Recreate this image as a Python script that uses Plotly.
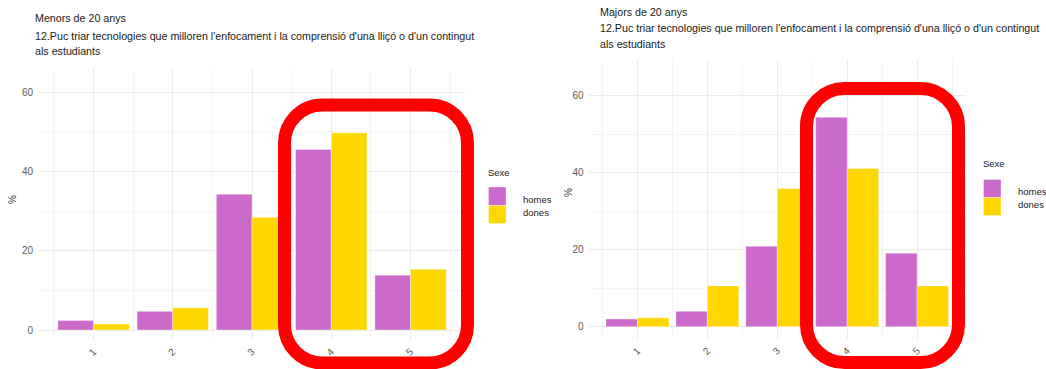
import plotly.graph_objects as go

W, H = 1046, 369

# Survey answers (1-5) and the share of each sex, in percent
categories = [1, 2, 3, 4, 5]
tick_labels = ["1", "2", "3", "4", "5"]
menors_homes = [2.4, 4.7, 34.2, 45.5, 13.8]
menors_dones = [1.5, 5.6, 28.4, 49.7, 15.3]
majors_homes = [2.0, 4.0, 20.9, 54.4, 19.1]
majors_dones = [2.3, 10.6, 35.9, 41.1, 10.6]

series_names = ["homes", "dones"]
colors = ["#CC6ACC", "#FFD700"]

question_lines = [
    "12.Puc triar tecnologies que milloren l'enfocament i la comprensió d'una lliçó o d'un contingut",
    "als estudiants",
]
title_lines = [
    ["Menors de 20 anys"] + question_lines,
    ["Majors de 20 anys"] + question_lines,
]

FONT = "Liberation Sans, Arial, sans-serif"
GRID = "#EBEBEB"
MINOR = "#F4F4F4"
TICK = "#5A5A5A"


def px(x):
    return x / W


def py(y):
    return 1 - y / H


def rounded_rect(x0, y0, x1, y1, r):
    """Rounded rectangle path given in pixels, returned in paper coordinates."""
    k = 0.5523 * r
    pts = [
        ("M", [(x0 + r, y0)]),
        ("L", [(x1 - r, y0)]),
        ("C", [(x1 - r + k, y0), (x1, y0 + r - k), (x1, y0 + r)]),
        ("L", [(x1, y1 - r)]),
        ("C", [(x1, y1 - r + k), (x1 - r + k, y1), (x1 - r, y1)]),
        ("L", [(x0 + r, y1)]),
        ("C", [(x0 + r - k, y1), (x0, y1 - r + k), (x0, y1 - r)]),
        ("L", [(x0, y0 + r)]),
        ("C", [(x0, y0 + r - k), (x0 + r - k, y0), (x0 + r, y0)]),
    ]
    parts = []
    for cmd, coords in pts:
        parts.append(cmd + " " + " ".join(f"{px(a):.5f},{py(b):.5f}" for a, b in coords))
    return " ".join(parts) + " Z"


# panel geometry (pixels): left, right, top, bottom, y range
panels = [
    dict(x0=38, x1=466, y0=68, y1=340, yr=[-2.52, 66.05]),
    dict(x0=588.5, x1=966, y0=60, y1=339, yr=[-3.2, 69.3]),
]
data_sets = [(menors_homes, menors_dones), (majors_homes, majors_dones)]

fig = go.Figure()

for i, (p, vals) in enumerate(zip(panels, data_sets)):
    ax = "" if i == 0 else str(i + 1)
    for name, v, c in zip(series_names, vals, colors):
        fig.add_trace(go.Bar(
            x=categories, y=v, name=name,
            marker=dict(color=c, line=dict(color="rgba(255,255,255,0.6)", width=0.6)),
            xaxis="x" + ax, yaxis="y" + ax, showlegend=False,
        ))
    xa = dict(
        domain=[px(p["x0"]), px(p["x1"])], range=[0.3, 5.7],
        tickvals=categories, ticktext=tick_labels, tickangle=-45,
        showgrid=True, gridcolor=GRID, gridwidth=1,
        minor=dict(tickvals=[0.5, 1.5, 2.5, 3.5, 4.5, 5.5], showgrid=True, gridcolor=MINOR),
        zeroline=False, showline=False, ticks="", ticklabelstandoff=3,
        tickfont=dict(family=FONT, size=10, color=TICK),
        anchor="y" + ax, automargin=False, fixedrange=True,
    )
    ya = dict(
        domain=[py(p["y1"]), py(p["y0"])], range=p["yr"],
        tickvals=[0, 20, 40, 60],
        showgrid=True, gridcolor=GRID, gridwidth=1,
        minor=dict(tickvals=[10, 30, 50], showgrid=True, gridcolor=MINOR),
        zeroline=False, showline=False, ticks="", ticklabelstandoff=4,
        tickfont=dict(family=FONT, size=10, color=TICK),
        anchor="x" + ax, automargin=False, fixedrange=True,
    )
    fig.update_layout(**{"xaxis" + ax: xa, "yaxis" + ax: ya})

annotations = []
shapes = []

# titles, one annotation per line
for tx, ys, lines in [(33, [18, 35.5, 51], title_lines[0]), (598, [11.5, 28, 43.5], title_lines[1])]:
    for ty, line in zip(ys, lines):
        annotations.append(dict(
            x=px(tx), y=py(ty), xref="paper", yref="paper", xanchor="left", yanchor="middle",
            text=line, showarrow=False,
            font=dict(family=FONT, size=10.7, color="#1A1A1A"),
        ))

# y-axis titles
for (tx, ty) in [(13, 200), (569, 193)]:
    annotations.append(dict(
        x=px(tx), y=py(ty), xref="paper", yref="paper", xanchor="center", yanchor="middle",
        text="%", textangle=-90, showarrow=False,
        font=dict(family=FONT, size=10, color="#333333"),
    ))

# legends: title, colour keys and labels
legends = [
    dict(tx=486, ty=172, kx=488.5, kx1=506, ky=[(187, 205.5), (205.5, 223.5)], lx=521, ly=[199, 212]),
    dict(tx=981, ty=163, kx=983.5, kx1=1001, ky=[(179.5, 197.5), (197.5, 215.5)], lx=1016, ly=[191, 204]),
]
for lg in legends:
    annotations.append(dict(
        x=px(lg["tx"]), y=py(lg["ty"]), xref="paper", yref="paper", xanchor="left", yanchor="middle",
        text="Sexe", showarrow=False, font=dict(family=FONT, size=9.5, color="#1A1A1A"),
    ))
    for (k0, k1), ly, name, c in zip(lg["ky"], lg["ly"], series_names, colors):
        shapes.append(dict(
            type="rect", xref="paper", yref="paper",
            x0=px(lg["kx"]), x1=px(lg["kx1"]), y0=py(k1), y1=py(k0),
            fillcolor=c, line=dict(color="rgba(255,255,255,0.6)", width=0.6),
        ))
        annotations.append(dict(
            x=px(lg["lx"]), y=py(ly), xref="paper", yref="paper", xanchor="left", yanchor="middle",
            text=name, showarrow=False, font=dict(family=FONT, size=9.5, color="#1A1A1A"),
        ))

# red highlight frames around answers 4 and 5
for (x0, y0, x1, y1) in [(284.5, 105, 467.5, 363), (806.5, 88.5, 958.5, 362.5)]:
    shapes.append(dict(
        type="path", xref="paper", yref="paper", path=rounded_rect(x0, y0, x1, y1, 38),
        line=dict(color="#FF0000", width=13), fillcolor="rgba(0,0,0,0)", layer="above",
    ))

fig.update_layout(
    width=W, height=H,
    margin=dict(l=0, r=0, t=0, b=0),
    paper_bgcolor="white", plot_bgcolor="white",
    barmode="group", bargap=0.1, bargroupgap=0,
    annotations=annotations, shapes=shapes,
    showlegend=False,
)

fig.write_html("out.html")
